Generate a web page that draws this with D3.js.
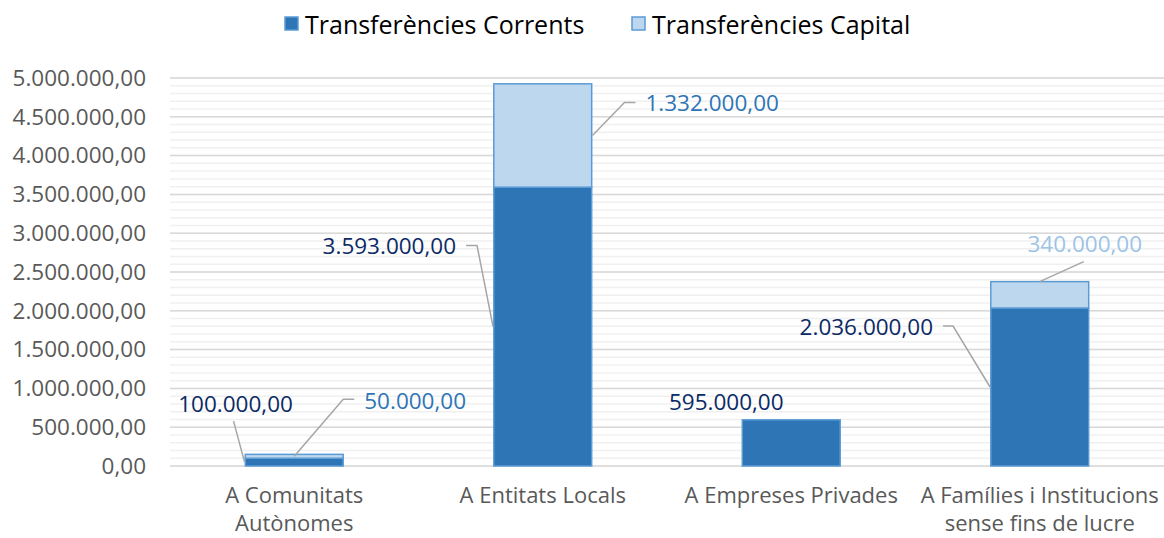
<!DOCTYPE html>
<html lang="ca">
<head>
<meta charset="UTF-8">
<script src="https://d3js.org/d3.v7.min.js"></script>
<title>Transferències</title>
<style>
  body { margin: 0; background: #fff; }
  text { font-family: "Open Sans", "Liberation Sans", sans-serif; }
</style>
</head>
<body>
<div id="canvas"></div>
<script>
// data
const categories = [["A Comunitats", "Autònomes"], ["A Entitats Locals"], ["A Empreses Privades"], ["A Famílies i Institucions", "sense fins de lucre"]]
const catKeys = categories.map(c => c.join(" "))
const corrents = [100000, 3593000, 595000, 2036000]
const capital = [50000, 1332000, 0, 340000]
const seriesNames = ["Transferències Corrents", "Transferències Capital"]
const yTicks = [0, 500000, 1000000, 1500000, 2000000, 2500000, 3000000, 3500000, 4000000, 4500000, 5000000]

const W = 1164, H = 538
const colors = ["#2E75B6", "#BDD7EE"]
const labelColors = [["#0B2A66", "#0B2A66", "#0B2A66", "#0B2A66"], ["#2E75B6", "#2E75B6", null, "#9DC3E6"]]

const svg = d3.select("#canvas").append("svg").attr("width", W).attr("height", H)

const x = d3.scaleBand().domain(catKeys).range([170, 1164]).paddingInner(0.6).paddingOuter(0.3)
const y = d3.scaleLinear().domain([0, 5000000]).range([466, 78])

const fmt = v => {
  const s = d3.format(",.2f")(v)
  return s.replace(/,/g, "#").replace(".", ",").replace(/#/g, ".")
}

// grid: minor then major
const minor = d3.range(0, 5000001, 100000)
svg.append("g").selectAll("line").data(minor).enter().append("line")
  .attr("x1", 170).attr("x2", W)
  .attr("y1", d => y(d)).attr("y2", d => y(d))
  .attr("stroke", "#F0F0F0").attr("stroke-width", 1.5)

svg.append("g").selectAll("line").data(yTicks).enter().append("line")
  .attr("x1", 170).attr("x2", W)
  .attr("y1", d => y(d)).attr("y2", d => y(d))
  .attr("stroke", "#D9D9D9").attr("stroke-width", 1.5)

// y axis labels
const yAxis = d3.axisLeft(y).tickValues(yTicks).tickFormat(fmt).tickSize(0).tickPadding(0)
const ga = svg.append("g").attr("transform", "translate(146,0)").call(yAxis)
ga.select(".domain").remove()
ga.selectAll("text").attr("fill", "#595959").style("font-size", "22.5px").style("font-family", "'Open Sans', sans-serif")

// stacked bars
const rows = catKeys.map((k, i) => ({ key: k, corrents: corrents[i], capital: capital[i] }))
const stack = d3.stack().keys(["corrents", "capital"])(rows)

svg.append("g").selectAll("g").data(stack).enter().append("g")
  .attr("fill", (d, i) => colors[i])
  .selectAll("rect").data(d => d.filter(p => p[1] > p[0])).enter().append("rect")
  .attr("x", d => x(d.data.key) + 0.75)
  .attr("width", x.bandwidth() - 1.5)
  .attr("y", d => y(d[1]))
  .attr("height", d => y(d[0]) - y(d[1]))
  .attr("stroke", "#5B9BD5").attr("stroke-width", 1.5)

// data labels with leader lines (layout offsets in px from the anchor point)
const labelLayout = [
  [
    { at: "left", dx: -9, dy: -59, anchor: "middle", lead: [[-11, -41]] },
    { at: "left", dx: -37, dy: -81, anchor: "end", lead: [[-27, -81], [-16, -81]] },
    { at: "top", dx: -65, dy: -18, anchor: "middle", lead: null },
    { at: "left", dx: -57, dy: -61, anchor: "end", lead: [[-47, -61], [-37, -61]] }
  ],
  [
    { at: "center", dx: 70, dy: -56, anchor: "start", lead: [[60, -57], [49, -57]] },
    { at: "right", dx: 53, dy: -33, anchor: "start", lead: [[43, -33], [32, -33]] },
    null,
    { at: "topc", dx: 45, dy: -38, anchor: "middle", lead: [[44, -20]] }
  ]
]

const labels = []
stack.forEach((s, si) => {
  s.forEach((p, ci) => {
    const L = labelLayout[si][ci]
    if (!L || p[1] <= p[0]) return
    const x0 = x(p.data.key), bw = x.bandwidth()
    const mid = (y(p[0]) + y(p[1])) / 2
    let ax, ay
    if (L.at === "left") { ax = x0; ay = mid }
    else if (L.at === "right") { ax = x0 + bw; ay = mid }
    else if (L.at === "center") { ax = x0 + bw / 2; ay = mid }
    else { ax = x0 + bw / 2; ay = y(p[1]) }
    labels.push({ ax, ay, L, text: fmt(p[1] - p[0]), color: labelColors[si][ci] })
  })
})

const lg = svg.append("g")
lg.selectAll("path").data(labels.filter(d => d.L.lead)).enter().append("path")
  .attr("d", d => d3.line()(d.L.lead.map(q => [d.ax + q[0], d.ay + q[1]]).concat([[d.ax, d.ay]])))
  .attr("fill", "none").attr("stroke", "#A6A6A6").attr("stroke-width", 1.5)

lg.selectAll("text").data(labels).enter().append("text")
  .attr("x", d => d.ax + d.L.dx).attr("y", d => d.ay + d.L.dy)
  .attr("text-anchor", d => d.L.anchor).attr("dominant-baseline", "central")
  .attr("fill", d => d.color).style("font-size", "22.5px")
  .text(d => d.text)

// category labels
const cg = svg.append("g")
categories.forEach((lines, i) => {
  const t = cg.append("text").attr("text-anchor", "middle").attr("fill", "#595959").style("font-size", "22px")
  lines.forEach((ln, j) => {
    t.append("tspan").attr("x", x(catKeys[i]) + x.bandwidth() / 2).attr("y", 503 + j * 28).text(ln)
  })
})

// legend
const legX = [285, 632]
const leg = svg.append("g")
seriesNames.forEach((n, i) => {
  leg.append("rect").attr("x", legX[i]).attr("y", 17).attr("width", 13).attr("height", 13)
    .attr("fill", colors[i]).attr("stroke", "#5B9BD5").attr("stroke-width", 1.5)
  leg.append("text").attr("x", legX[i] + 20).attr("y", 24).attr("dominant-baseline", "central")
    .attr("fill", "#000").style("font-size", "25px").text(n)
})
</script>
</body>
</html>
